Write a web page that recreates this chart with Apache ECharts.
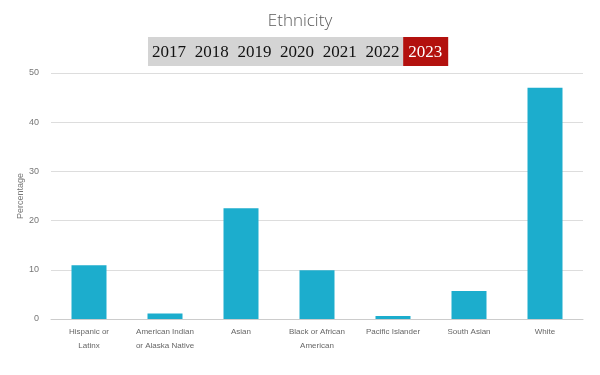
<!DOCTYPE html>
<html>
<head>
<meta charset="utf-8">
<script src="https://cdn.jsdelivr.net/npm/echarts@6/dist/echarts.min.js"></script>
<style>
  html, body { margin: 0; padding: 0; background: #fff; }
  #main { width: 600px; height: 375px; }
</style>
</head>
<body>
<div id="main"></div>
<script>
// data -----------------------------------------
var categories = ['Hispanic or\nLatinx', 'American Indian\nor Alaska Native', 'Asian', 'Black or African\nAmerican', 'Pacific Islander', 'South Asian', 'White'];
var percentages = [10.9, 1.1, 22.5, 9.9, 0.6, 5.7, 47.0];
var years = ['2017', '2018', '2019', '2020', '2021', '2022', '2023'];
var activeYear = '2023';

var myChart = echarts.init(document.getElementById('main'));

// year selector strip
var stripLeft = 148, stripTop = 37, stripH = 29, step = 42.7;
var yearGraphics = [{
    type: 'rect',
    shape: {x: stripLeft, y: stripTop, width: step * (years.length - 1) + 1, height: stripH},
    style: {fill: '#d4d4d4'}
}];
years.forEach(function (y, i) {
    var active = y === activeYear;
    if (active) {
        yearGraphics.push({
            type: 'rect',
            shape: {x: stripLeft + step * i - 1, y: stripTop, width: 45, height: stripH},
            style: {fill: '#b3110e'}
        });
    }
    yearGraphics.push({
        type: 'text',
        x: stripLeft + 21 + step * i,
        y: stripTop + stripH / 2 + 1,
        style: {
            text: y,
            fill: active ? '#fff' : '#111',
            font: '17px "Liberation Serif", serif',
            align: 'center',
            verticalAlign: 'middle'
        }
    });
});

var option = {
    backgroundColor: '#fff',
    animation: false,
    title: {
        text: 'Ethnicity',
        left: 'center',
        top: 8,
        textStyle: {
            color: '#5a5a5a',
            fontSize: 17,
            fontWeight: 'lighter',
            fontFamily: 'Open Sans'
        }
    },
    graphic: yearGraphics,
    grid: {
        left: 51,
        right: 17,
        top: 73,
        bottom: 56
    },
    xAxis: {
        type: 'category',
        data: categories,
        axisLine: {lineStyle: {color: '#ccc'}},
        axisTick: {length: 6, lineStyle: {color: '#ccc'}},
        axisLabel: {
            color: '#666',
            fontSize: 8,
            fontFamily: 'Liberation Sans',
            lineHeight: 14,
            margin: 6,
            interval: 0
        }
    },
    yAxis: {
        type: 'value',
        min: 0,
        max: 50,
        interval: 10,
        name: 'Percentage',
        nameLocation: 'middle',
        nameMoveOverlap: false,
        nameGap: 26,
        nameTextStyle: {color: '#777', fontSize: 9, fontFamily: 'Liberation Sans'},
        axisLine: {show: false},
        axisTick: {show: false},
        axisLabel: {color: '#777', fontSize: 9, fontFamily: 'Liberation Sans', margin: 12},
        splitLine: {lineStyle: {color: '#ddd'}}
    },
    series: [{
        type: 'bar',
        data: percentages,
        barWidth: 35,
        itemStyle: {color: '#1cadcd'}
    }]
};

myChart.setOption(option);
</script>
</body>
</html>
